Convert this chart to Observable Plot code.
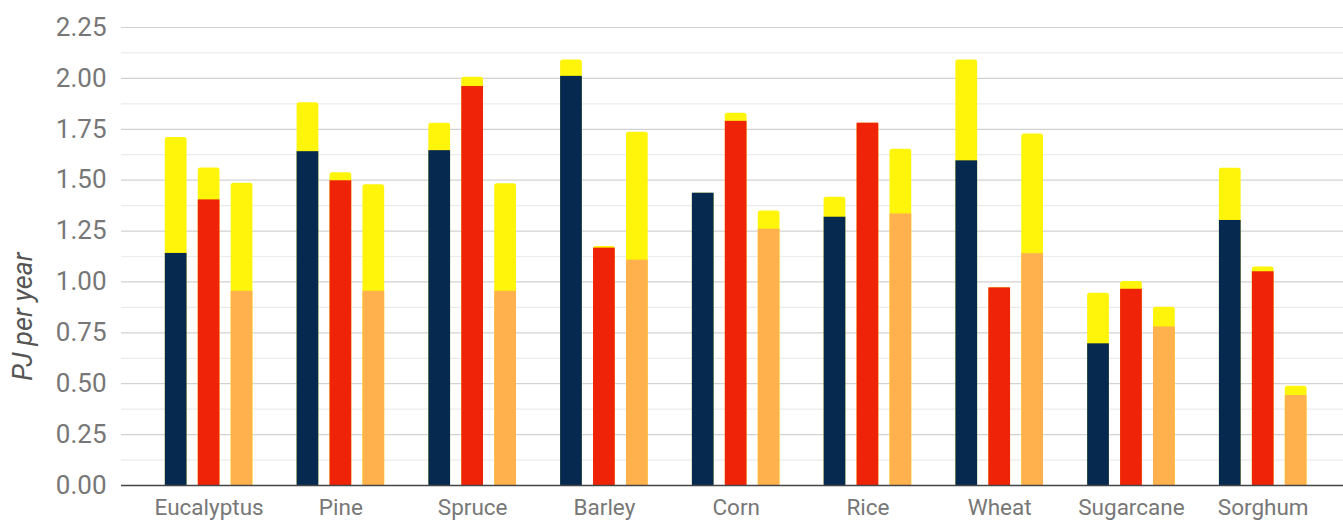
<!DOCTYPE html>
<html>
<head>
<meta charset="utf-8">
<script src="https://cdn.jsdelivr.net/npm/d3@7"></script>
<script src="https://cdn.jsdelivr.net/npm/@observablehq/plot@0.6"></script>
<style>
  html, body { margin: 0; padding: 0; background: #fff; }
  #chart svg { display: block; }
</style>
</head>
<body>
<div id="chart"></div>
<script>
// Crops / feedstocks along the x axis
const categories = ["Eucalyptus", "Pine", "Spruce", "Barley", "Corn", "Rice", "Wheat", "Sugarcane", "Sorghum"];

// Three pathways per crop: lower (solid) segment and stacked total (yellow cap on top)
const seriesKeys = ["first", "second", "third"];
const seriesColors = ["#062A4F", "#EE2308", "#FFB14D"];
const capColor = "#FFF50A";

const baseFirst  = [1.14, 1.64, 1.645, 2.01, 1.436, 1.318, 1.595, 0.696, 1.302];
const totalFirst = [1.71, 1.88, 1.78, 2.09, 1.436, 1.416, 2.09, 0.945, 1.559];

const baseSecond  = [1.403, 1.497, 1.96, 1.166, 1.789, 1.78, 0.971, 0.964, 1.05];
const totalSecond = [1.56, 1.536, 2.006, 1.174, 1.829, 1.78, 0.971, 1.002, 1.073];

const baseThird  = [0.954, 0.954, 0.954, 1.107, 1.259, 1.334, 1.139, 0.779, 0.442];
const totalThird = [1.485, 1.477, 1.482, 1.735, 1.349, 1.652, 1.727, 0.876, 0.488];

// Y axis ticks (labelled) and the lighter in-between grid lines
const yTicks = [0, 0.25, 0.5, 0.75, 1, 1.25, 1.5, 1.75, 2, 2.25];
const yMinorTicks = [0.125, 0.375, 0.625, 0.875, 1.125, 1.375, 1.625, 1.875, 2.125];

const yTitle = "PJ per year";

// Build the band slots: an empty spacer followed by the three bars of each crop
const bases = [baseFirst, baseSecond, baseThird];
const totals = [totalFirst, totalSecond, totalThird];
const slots = [];
const rows = [];
categories.forEach((c, i) => {
  slots.push(`${c}|gap`);
  seriesKeys.forEach((s, j) => {
    const slot = `${c}|${s}`;
    slots.push(slot);
    rows.push({slot, category: c, series: s, base: bases[j][i], total: totals[j][i]});
  });
});
const labelSlots = categories.map(c => `${c}|second`);

const W = 1343, H = 520;
const marginLeft = 121, marginTop = 27, marginBottom = 35;

const chart = Plot.plot({
  width: W,
  height: H,
  marginLeft,
  marginRight: 0,
  marginTop,
  marginBottom,
  style: {fontFamily: "Roboto, 'Noto Sans', sans-serif", background: "#fff", color: "#777"},
  x: {type: "band", domain: slots, range: [121, 1317.4], paddingInner: 0.34, paddingOuter: 0.33, round: false},
  y: {domain: [0, 2.25]},
  color: {domain: seriesKeys, range: seriesColors},
  marks: [
    Plot.ruleY(yMinorTicks, {stroke: "#ebebeb", strokeWidth: 1.2}),
    Plot.ruleY(yTicks.filter(d => d > 0), {stroke: "#d2d2d2", strokeWidth: 1.2}),
    // yellow cap drawn to the full total, with the solid segment laid over its lower part
    Plot.barY(rows, {x: "slot", y1: 0, y2: "total", fill: capColor, rx: 2.5}),
    Plot.barY(rows, {x: "slot", y1: 0, y2: "base", fill: "series"}),
    Plot.ruleY([0], {stroke: "#444", strokeWidth: 1.6}),
    Plot.axisY(yTicks, {
      tickSize: 0, tickPadding: 15, fontSize: 26, fill: "#777",
      tickFormat: d3.format(".2f"), label: null
    }),
    Plot.axisX(labelSlots, {
      tickSize: 0, tickPadding: 14, fontSize: 22.5, fill: "#777",
      tickFormat: d => d.split("|")[0], label: null
    }),
    Plot.text([yTitle], {
      frameAnchor: "left", textAnchor: "middle", dx: -98, dy: 60, rotate: -90,
      fontSize: 27, fontStyle: "italic", fill: "#555"
    })
  ]
});

document.getElementById("chart").append(chart);
</script>
</body>
</html>
